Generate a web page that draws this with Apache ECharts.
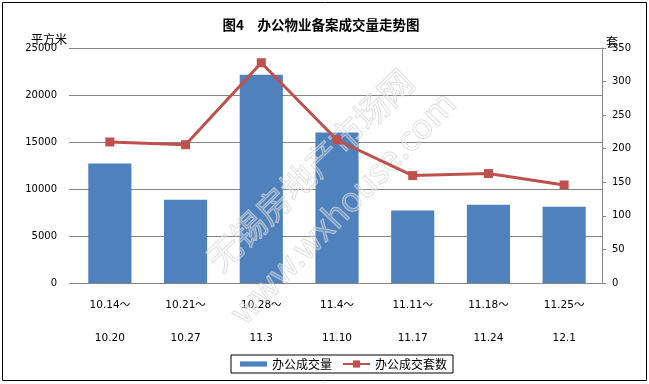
<!DOCTYPE html>
<html>
<head>
<meta charset="utf-8">
<script src="https://cdn.jsdelivr.net/npm/echarts@6/dist/echarts.min.js"></script>
<style>
html,body{margin:0;padding:0;background:#fff;}
#chart{width:649px;height:384px;}
</style>
</head>
<body>
<div id="chart"></div>
<script>
const titleText = '图4　办公物业备案成交量走势图';
const categories = ['10.14～\n10.20', '10.21～\n10.27', '10.28～\n11.3', '11.4～\n11.10', '11.11～\n11.17', '11.18～\n11.24', '11.25～\n12.1'];
const areaName = '办公成交量';
const countName = '办公成交套数';
const areaValues = [12700, 8850, 22150, 16000, 7700, 8330, 8100];
const countValues = [210, 206, 328, 213, 160, 163, 146];
const leftAxisName = '平方米';
const rightAxisName = '套';
const watermarkCN = '无锡房地产市场网';
const watermarkEN = 'www.wxhouse.com';

const numFont = 'DejaVu Sans, Noto Sans CJK SC, sans-serif';
const cjkFont = 'Noto Sans CJK SC, sans-serif';
const gridColor = '#868686';

const chart = echarts.init(document.getElementById('chart'), null, {renderer: 'canvas'});
const option = {
  backgroundColor: '#fff',
  animation: false,
  grid: {left: 72, right: 47, top: 48, bottom: 101},
  legend: {
    left: 231, top: 355,
    padding: [3, 6, 3, 9],
    borderColor: '#000', borderWidth: 1,
    itemWidth: 27, itemHeight: 9, itemGap: 10,
    textStyle: {fontSize: 12, color: '#000', fontFamily: cjkFont},
    data: [
      {name: areaName, icon: 'path://M0,0h26v5h-26z'},
      {name: countName}
    ]
  },
  xAxis: {
    type: 'category',
    data: categories,
    axisLine: {lineStyle: {color: gridColor, width: 1}},
    axisTick: {show: false},
    axisLabel: {interval: 0, fontSize: 10.5, lineHeight: 33, margin: 6, color: '#000', fontFamily: numFont}
  },
  yAxis: [
    {
      type: 'value', min: 0, max: 25000, interval: 5000, position: 'left',
      axisLine: {show: false},
      axisTick: {show: true, length: 3, lineStyle: {color: gridColor}},
      splitLine: {lineStyle: {color: gridColor, width: 1}},
      axisLabel: {margin: 15, fontSize: 10, color: '#000', fontFamily: numFont, formatter: v => String(v)}
    },
    {
      type: 'value', min: 0, max: 350, interval: 50, position: 'right',
      axisLine: {show: true, lineStyle: {color: gridColor, width: 1}},
      axisTick: {show: true, length: 4, inside: false, lineStyle: {color: gridColor}},
      splitLine: {show: false},
      axisLabel: {margin: 10, fontSize: 10, color: '#000', fontFamily: numFont, formatter: v => String(v)}
    }
  ],
  series: [
    {
      name: areaName, type: 'bar', data: areaValues, yAxisIndex: 0,
      barWidth: '57%', itemStyle: {color: '#4F81BD'}, z: 2
    },
    {
      name: countName, type: 'line', data: countValues, yAxisIndex: 1,
      symbol: 'rect', symbolSize: 9, lineStyle: {color: '#C0504D', width: 3},
      itemStyle: {color: '#C0504D'}, z: 5
    }
  ],
  graphic: [
    {type: 'rect', silent: true, z: 0, shape: {x: 2.5, y: 2.5, width: 644, height: 378}, style: {fill: null, stroke: '#000', lineWidth: 1}},
    {type: 'text', x: 321, y: 25, z: 10, style: {text: titleText, font: 'bold 13.5px ' + cjkFont, fill: '#000', textAlign: 'center', textVerticalAlign: 'middle'}},
    {type: 'text', x: 49, y: 39, z: 10, style: {text: leftAxisName, font: '12px ' + cjkFont, fill: '#000', textAlign: 'center', textVerticalAlign: 'middle'}},
    {type: 'text', x: 612, y: 42, z: 10, style: {text: rightAxisName, font: '12px ' + cjkFont, fill: '#000', textAlign: 'center', textVerticalAlign: 'middle'}},
    {type: 'text', x: 310, y: 170, rotation: 44 * Math.PI / 180, z: 4, silent: true,
      style: {text: watermarkCN, font: '34px ' + cjkFont, fill: 'rgba(255,255,255,0.2)', stroke: 'rgba(210,210,210,0.75)', lineWidth: 1, textAlign: 'center', textVerticalAlign: 'middle'}},
    {type: 'text', x: 342, y: 207, rotation: 46 * Math.PI / 180, z: 4, silent: true,
      style: {text: watermarkEN, font: '34px ' + cjkFont, fill: 'rgba(255,255,255,0.2)', stroke: 'rgba(210,210,210,0.75)', lineWidth: 1, textAlign: 'center', textVerticalAlign: 'middle'}}
  ]
};
chart.setOption(option);
</script>
</body>
</html>
